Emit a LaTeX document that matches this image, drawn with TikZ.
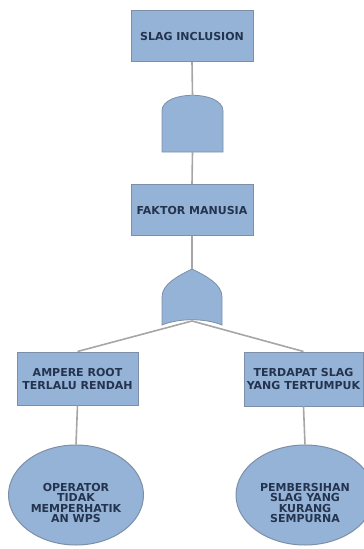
\documentclass[tikz,border=0pt]{standalone}
\usepackage{fontspec}
\setmainfont{DejaVu Sans}
\usetikzlibrary{shapes.geometric}
\definecolor{gatefill}{HTML}{95B3D7}
\definecolor{gateedge}{HTML}{7D8FA8}
\definecolor{labeltext}{HTML}{24344F}
\definecolor{wire}{HTML}{A6A6A6}
\begin{document}
\begin{tikzpicture}[x=1pt,y=-1pt,
  event/.style={draw=gateedge, line width=1pt, fill=gatefill,
    text=labeltext, font=\bfseries\fontsize{11}{13}\selectfont,
    align=center, inner sep=0pt},
  basic/.style={event, ellipse},
  caption/.style={text=labeltext, font=\bfseries\fontsize{11}{10.5}\selectfont,
    align=center, inner sep=0pt},
  gate/.style={draw=gateedge, line width=0.8pt, fill=gatefill},
  link/.style={draw=wire, line width=1.6pt}]
\useasboundingbox (0,0) rectangle (364,549);

% events
\node[event, minimum width=122pt, minimum height=51pt] (top) at (192,36) {SLAG INCLUSION};
\node[event, minimum width=122pt, minimum height=51pt] (human) at (192,210) {FAKTOR MANUSIA};
\node[event, minimum width=121pt, minimum height=53pt] (ampere) at (77.5,378.5) {AMPERE ROOT\\TERLALU RENDAH};
\node[event, minimum width=119pt, minimum height=54pt] (slag) at (303.5,379) {TERDAPAT SLAG\\YANG TERTUMPUK};

% basic events, their text sits a little below the centre
\node[basic, minimum width=135pt, minimum height=100pt] (operator) at (76,495) {};
\node[caption] (operatortext) at (76,503) {OPERATOR\\TIDAK\\MEMPERHATIK\\AN WPS};
\node[basic, minimum width=138pt, minimum height=100pt] (clean) at (305,495) {};
\node[caption] (cleantext) at (305,503) {PEMBERSIHAN\\SLAG YANG\\KURANG\\SEMPURNA};

% AND gate
\draw[gate] (162,152) -- (162,111) .. controls (162,90) and (223,90) .. (223,111) -- (223,152) -- cycle;
\coordinate (andtop) at (192.5,95);
\coordinate (andbot) at (192.5,152);

% OR gate
\draw[gate] (162,325) -- (162,297) .. controls (162,284) and (178,276) .. (192,269)
  .. controls (206,276) and (222,284) .. (222,297) -- (222,325)
  .. controls (205,318) and (179,318) .. cycle;
\coordinate (ortop) at (192,269);
\coordinate (orbot) at (192,321);

% connectors
\draw[link] (top.south) -- (andtop);
\draw[link] (andbot) -- (human.north);
\draw[link] (human.south) -- (ortop);
\draw[link] (orbot) -- (ampere.north);
\draw[link] (orbot) -- (slag.north);
\draw[link] (ampere.south) -- (operator.north);
\draw[link] (slag.south) -- (clean.north);
\end{tikzpicture}
\end{document}
